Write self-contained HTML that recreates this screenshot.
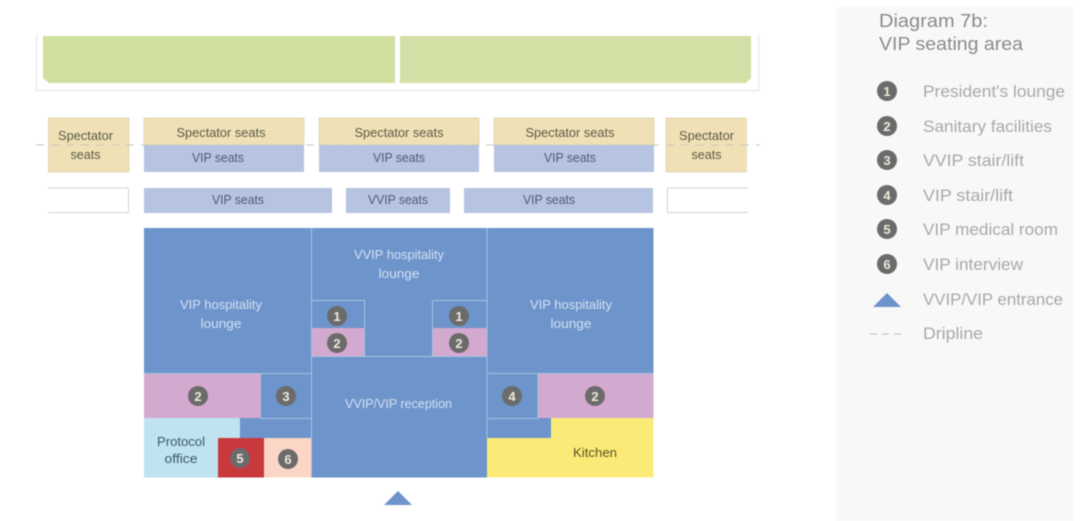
<!DOCTYPE html>
<html><head><meta charset="utf-8"><style>
html,body{margin:0;padding:0;background:#fff;width:1087px;height:521px;overflow:hidden}
svg{display:block;filter:blur(0.6px)}
text{font-family:"Liberation Sans",sans-serif}
.d{font-size:13px;fill:#5e5a48;text-anchor:middle}
.b{font-size:13px;fill:#4d5a78;text-anchor:middle}
.w{font-size:13px;fill:#d3e0f2;text-anchor:middle}
.n{font-size:13px;font-weight:bold;fill:#eee9da;text-anchor:middle}
.l{font-size:16.500px;fill:#a9a9a9}
.t{font-size:18px;fill:#8b8b8b}
</style></head><body>
<svg width="1087" height="521" viewBox="0 0 1087 521" xmlns="http://www.w3.org/2000/svg">
<rect width="1087" height="521" fill="#fff"/>
<path d="M36.500 34V90.500H759V34" fill="none" stroke="#ecedef" stroke-width="1.500"/>
<path d="M43 36H395V83H49L43 78Z" fill="#cfdf9e"/>
<path d="M400 36H751V78L746 83H400Z" fill="#d2e0a5"/>

<g fill="#efe1b5" stroke="#dfd3aa" stroke-width="0.800">
<rect x="48.500" y="118" width="80.500" height="54"/>
<rect x="144" y="118" width="160" height="27"/>
<rect x="319" y="118" width="160" height="27"/>
<rect x="494" y="118" width="160" height="27"/>
<path d="M747 118H666V172H747" />
</g>
<g fill="#b6c4e1">
<rect x="144" y="145" width="160" height="27"/>
<rect x="319" y="145" width="160" height="27"/>
<rect x="494" y="145" width="160" height="27"/>
<rect x="144" y="188" width="188" height="25"/>
<rect x="346" y="188" width="104" height="25"/>
<rect x="464" y="188" width="189" height="25"/>
</g>
<path d="M48 188H128.500V212.500H48" fill="#fff" stroke="#d2d4d8"/>
<path d="M748 188H667.500V212.500H748" fill="#fff" stroke="#d2d4d8"/>
<line x1="36" y1="145" x2="760" y2="145" stroke="#c6c6c2" stroke-width="1" stroke-dasharray="8 7"/>

<text class="d" x="85.500" y="140" textLength="55" lengthAdjust="spacingAndGlyphs">Spectator</text><text class="d" x="85.500" y="159" textLength="30" lengthAdjust="spacingAndGlyphs">seats</text>
<text class="d" x="706.500" y="140" textLength="55" lengthAdjust="spacingAndGlyphs">Spectator</text><text class="d" x="706.500" y="159" textLength="30" lengthAdjust="spacingAndGlyphs">seats</text>
<text class="d" x="221" y="137" textLength="89" lengthAdjust="spacingAndGlyphs">Spectator seats</text>
<text class="d" x="399" y="137" textLength="89" lengthAdjust="spacingAndGlyphs">Spectator seats</text>
<text class="d" x="570" y="137" textLength="89" lengthAdjust="spacingAndGlyphs">Spectator seats</text>
<text class="b" x="218" y="162" textLength="52" lengthAdjust="spacingAndGlyphs">VIP seats</text>
<text class="b" x="399" y="162" textLength="52" lengthAdjust="spacingAndGlyphs">VIP seats</text>
<text class="b" x="570" y="162" textLength="52" lengthAdjust="spacingAndGlyphs">VIP seats</text>
<text class="b" x="238" y="204" textLength="52" lengthAdjust="spacingAndGlyphs">VIP seats</text>
<text class="b" x="398" y="204" textLength="60" lengthAdjust="spacingAndGlyphs">VVIP seats</text>
<text class="b" x="549" y="204" textLength="52" lengthAdjust="spacingAndGlyphs">VIP seats</text>

<rect x="144" y="228" width="509.500" height="249.500" fill="#6d94cb"/>
<rect x="144" y="373" width="116" height="45" fill="#d4a9cf"/>
<rect x="538" y="373" width="115.500" height="45" fill="#d4a9cf"/>
<rect x="312" y="328" width="52" height="28" fill="#d4a9cf"/>
<rect x="433" y="328" width="54" height="28" fill="#d4a9cf"/>
<path d="M144 418H240V438H218V477.500H144Z" fill="#bfe3ef"/>
<rect x="218" y="438" width="46" height="39.500" fill="#c9383c"/>
<rect x="264" y="438" width="47.500" height="39.500" fill="#fbd6c6"/>
<path d="M551 418H653.500V477.500H487V438H551Z" fill="#fbea78"/>

<g fill="none" stroke="#a9c1e2" stroke-width="1">
<path d="M311.500 228V477"/>
<path d="M487 228V438"/>
<path d="M144 373.500H311.500"/>
<path d="M487 373.500H653"/>
<path d="M260.500 374V418.500H311.500"/>
<path d="M538 374V418.500H487"/>
<path d="M312 300.500H364.500V356.500"/>
<path d="M487 300.500H432.500V356.500"/>
<path d="M312 356.500H487"/>
</g>

<text class="w" x="221" y="309" textLength="82" lengthAdjust="spacingAndGlyphs">VIP hospitality</text><text class="w" x="221" y="328" textLength="41" lengthAdjust="spacingAndGlyphs">lounge</text>
<text class="w" x="571" y="309" textLength="82" lengthAdjust="spacingAndGlyphs">VIP hospitality</text><text class="w" x="571" y="328" textLength="41" lengthAdjust="spacingAndGlyphs">lounge</text>
<text class="w" x="399" y="259" textLength="90" lengthAdjust="spacingAndGlyphs">VVIP hospitality</text><text class="w" x="399" y="278" textLength="41" lengthAdjust="spacingAndGlyphs">lounge</text>
<text class="w" x="398.500" y="408" textLength="107" lengthAdjust="spacingAndGlyphs">VVIP/VIP reception</text>
<text x="181" y="446" font-size="13" fill="#3d5a68" text-anchor="middle" textLength="48" lengthAdjust="spacingAndGlyphs">Protocol</text>
<text x="181" y="463" font-size="13" fill="#3d5a68" text-anchor="middle" textLength="33" lengthAdjust="spacingAndGlyphs">office</text>
<text x="595" y="457" font-size="13" fill="#5c5420" text-anchor="middle" textLength="44" lengthAdjust="spacingAndGlyphs">Kitchen</text>

<g fill="#6b6b6b">
<circle cx="337" cy="316" r="10"/><circle cx="337" cy="343" r="10"/>
<circle cx="459" cy="316" r="10"/><circle cx="459" cy="343" r="10"/>
<circle cx="198" cy="396" r="10"/><circle cx="286" cy="396" r="10"/>
<circle cx="512" cy="396" r="10"/><circle cx="595" cy="396" r="10"/>
<circle cx="240" cy="458" r="10"/><circle cx="288" cy="459" r="10"/>
</g>
<text class="n" x="337" y="321">1</text><text class="n" x="337" y="348">2</text>
<text class="n" x="459" y="321">1</text><text class="n" x="459" y="348">2</text>
<text class="n" x="198" y="401">2</text><text class="n" x="286" y="401">3</text>
<text class="n" x="512" y="401">4</text><text class="n" x="595" y="401">2</text>
<text class="n" x="240" y="463">5</text><text class="n" x="288" y="464">6</text>

<polygon points="384,505 398,491 412,505" fill="#6d94cb"/>

<rect x="836" y="7" width="237" height="514" fill="#f8f8f8"/>
<text class="t" x="879" y="27" textLength="109" lengthAdjust="spacingAndGlyphs">Diagram 7b:</text>
<text class="t" x="879" y="50" textLength="144" lengthAdjust="spacingAndGlyphs">VIP seating area</text>

<g fill="#6b6b6b">
<circle cx="887" cy="91" r="10"/><circle cx="887" cy="126" r="10"/><circle cx="887" cy="160" r="10"/>
<circle cx="887" cy="195" r="10"/><circle cx="887" cy="229" r="10"/><circle cx="887" cy="264" r="10"/>
</g>
<text class="n" x="887" y="96">1</text><text class="n" x="887" y="131">2</text><text class="n" x="887" y="165">3</text>
<text class="n" x="887" y="200">4</text><text class="n" x="887" y="234">5</text><text class="n" x="887" y="269">6</text>

<text class="l" x="923" y="97" textLength="142" lengthAdjust="spacingAndGlyphs">President's lounge</text>
<text class="l" x="923" y="132" textLength="129" lengthAdjust="spacingAndGlyphs">Sanitary facilities</text>
<text class="l" x="923" y="166" textLength="101" lengthAdjust="spacingAndGlyphs">VVIP stair/lift</text>
<text class="l" x="923" y="201" textLength="90" lengthAdjust="spacingAndGlyphs">VIP stair/lift</text>
<text class="l" x="923" y="235" textLength="135" lengthAdjust="spacingAndGlyphs">VIP medical room</text>
<text class="l" x="923" y="270" textLength="100" lengthAdjust="spacingAndGlyphs">VIP interview</text>
<text class="l" x="923" y="305" textLength="140" lengthAdjust="spacingAndGlyphs">VVIP/VIP entrance</text>
<text class="l" x="923" y="339" textLength="60" lengthAdjust="spacingAndGlyphs">Dripline</text>

<polygon points="873,307 887,293 901,307" fill="#6d94cb"/>
<line x1="870" y1="334" x2="904" y2="334" stroke="#bdbdbd" stroke-width="1" stroke-dasharray="7 5"/>
</svg>
</body></html>
